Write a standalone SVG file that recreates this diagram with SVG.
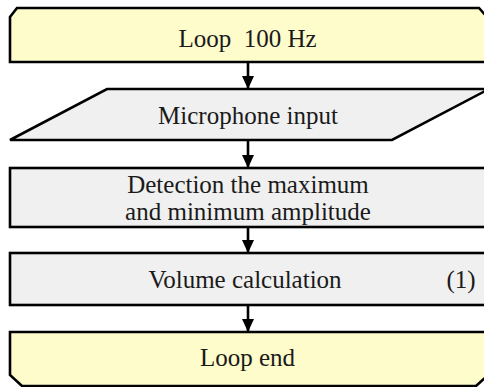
<svg xmlns="http://www.w3.org/2000/svg" width="484" height="387" viewBox="0 0 484 387">
  <style>
    .node { stroke: #000; stroke-width: 2.6; stroke-linejoin: miter; }
    .loop { fill: #fffccc; }
    .proc { fill: #f0f0f0; }
    text { font-family: "Liberation Serif", "Times New Roman", serif; font-size: 25px; fill: #1a1a1a; text-anchor: middle; white-space: pre; }
    .edge { stroke: #000; stroke-width: 2.6; fill: none; }
  </style>
  <defs>
    <marker id="arrow" markerWidth="13" markerHeight="12" refX="13" refY="6" orient="auto" markerUnits="userSpaceOnUse" viewBox="0 0 13 12">
      <path d="M0,0 L13,6 L0,12 Z" fill="#000"/>
    </marker>
  </defs>
  <rect width="484" height="387" fill="#fff"/>

  <g id="loop-start">
    <path class="node loop" d="M17,8 L479,8 L487,17 L487,62 L10,62 L10,17 Z"/>
    <text x="247.5" y="47" xml:space="preserve">Loop  100 Hz</text>
  </g>

  <g id="mic-input">
    <path class="node proc" d="M107,89 L489,89 L392,140 L10,140 Z"/>
    <text x="248" y="124">Microphone input</text>
  </g>

  <g id="detect">
    <rect class="node proc" x="10" y="168" width="478" height="59"/>
    <text x="248" y="193">Detection the maximum</text>
    <text x="248" y="220">and minimum amplitude</text>
  </g>

  <g id="volume">
    <rect class="node proc" x="10" y="253" width="478" height="52"/>
    <text x="245" y="288">Volume calculation</text>
    <text x="461" y="288">(1)</text>
  </g>

  <g id="loop-end">
    <path class="node loop" d="M10,332 L487,332 L487,376 L476,386 L22,386 L10,375 Z"/>
    <text x="247.5" y="366">Loop end</text>
  </g>

  <g id="connectors">
    <line class="edge" x1="248" y1="62" x2="248" y2="89" marker-end="url(#arrow)"/>
    <line class="edge" x1="248" y1="140" x2="248" y2="168" marker-end="url(#arrow)"/>
    <line class="edge" x1="248" y1="227" x2="248" y2="253" marker-end="url(#arrow)"/>
    <line class="edge" x1="248" y1="305" x2="248" y2="332" marker-end="url(#arrow)"/>
  </g>
</svg>
